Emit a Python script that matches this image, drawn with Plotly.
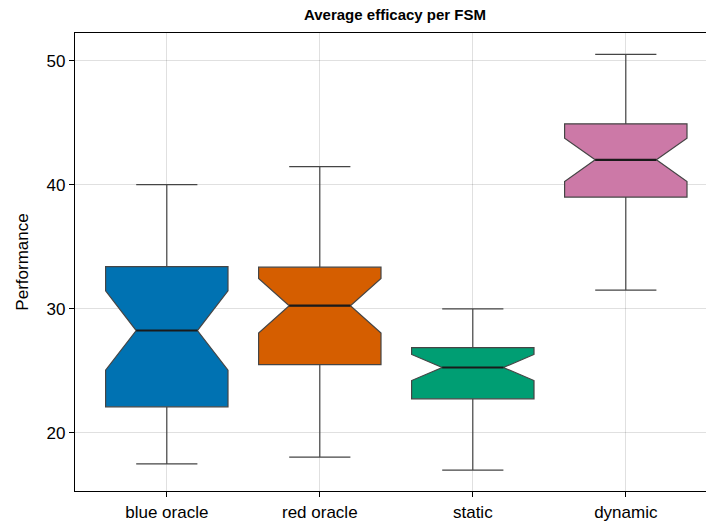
import plotly.graph_objects as go

categories = ["blue oracle", "red oracle", "static", "dynamic"]
lower_whisker = [17.5, 18.05, 17.0, 31.5]
q1 = [22.1, 25.5, 22.75, 39.0]
median = [28.25, 30.25, 25.27, 42.0]
q3 = [33.4, 33.35, 26.87, 44.9]
upper_whisker = [40.0, 41.45, 30.0, 50.5]
notch_half = [3.2, 2.2, 1.05, 1.75]
colors = ["#0072B2", "#D55E00", "#009E73", "#CC79A7"]

FONT = "Liberation Sans, Arial, Helvetica, sans-serif"
BOX_W = 0.8
NOTCH_W = 0.25  # plotly: inner notch half-width = (1 - 2*NOTCH_W) * box half-width

positions = list(range(1, len(categories) + 1))

fig = go.Figure()
for i, cat in enumerate(categories):
    fig.add_trace(go.Box(
        x=[positions[i]],
        q1=[q1[i]], median=[median[i]], q3=[q3[i]],
        lowerfence=[lower_whisker[i]], upperfence=[upper_whisker[i]],
        notchspan=[notch_half[i]],
        notched=True, notchwidth=NOTCH_W,
        width=BOX_W, whiskerwidth=0.5,
        fillcolor=colors[i],
        line=dict(color="#454545", width=1.2),
        boxpoints=False,
        showlegend=False,
        name=cat,
    ))
    half_inner = BOX_W / 2 * (1 - 2 * NOTCH_W)
    fig.add_trace(go.Scatter(
        x=[positions[i] - half_inner, positions[i] + half_inner],
        y=[median[i], median[i]],
        mode="lines", line=dict(color="#1a1a1a", width=2.2),
        showlegend=False, hoverinfo="skip",
    ))

fig.update_layout(
    width=706, height=521,
    margin=dict(l=75, r=0, t=33, b=30),
    paper_bgcolor="white", plot_bgcolor="white",
    font=dict(family=FONT, size=17, color="#000000"),
    title=dict(text="<b>Average efficacy per FSM</b>", x=0.5, xref="paper",
               y=1 - 15 / 521, yref="container", yanchor="middle",
               font=dict(family=FONT, size=15, color="#000000")),
)
fig.update_xaxes(
    range=[0.4, 0.4 + 640 / 153],
    tickvals=positions, ticktext=categories,
    showline=True, linecolor="#000000", linewidth=1.2, mirror=True,
    ticks="outside", ticklen=5, tickcolor="#000000", tickwidth=1,
    showgrid=True, gridcolor="rgba(0,0,0,0.12)", gridwidth=1,
    zeroline=False, automargin=False,
    tickfont=dict(size=17),
)
fig.update_yaxes(
    range=[15.32, 52.22],
    tickvals=[20, 30, 40, 50],
    showline=True, linecolor="#000000", linewidth=1.2,
    ticks="outside", ticklen=5, tickcolor="#000000", tickwidth=1,
    showgrid=True, gridcolor="rgba(0,0,0,0.12)", gridwidth=1,
    zeroline=False, automargin=False,
    title=dict(text="Performance", standoff=13, font=dict(size=17)),
    tickfont=dict(size=17),
)

fig.update_layout(width=715, margin=dict(r=0))
fig.update_xaxes(range=[0.4, 0.4 + 640 / 153])

fig.write_html(
    "out.html",
    config={"displayModeBar": False},
    post_script="document.body.style.margin='0px';document.body.style.overflow='hidden';",
)
